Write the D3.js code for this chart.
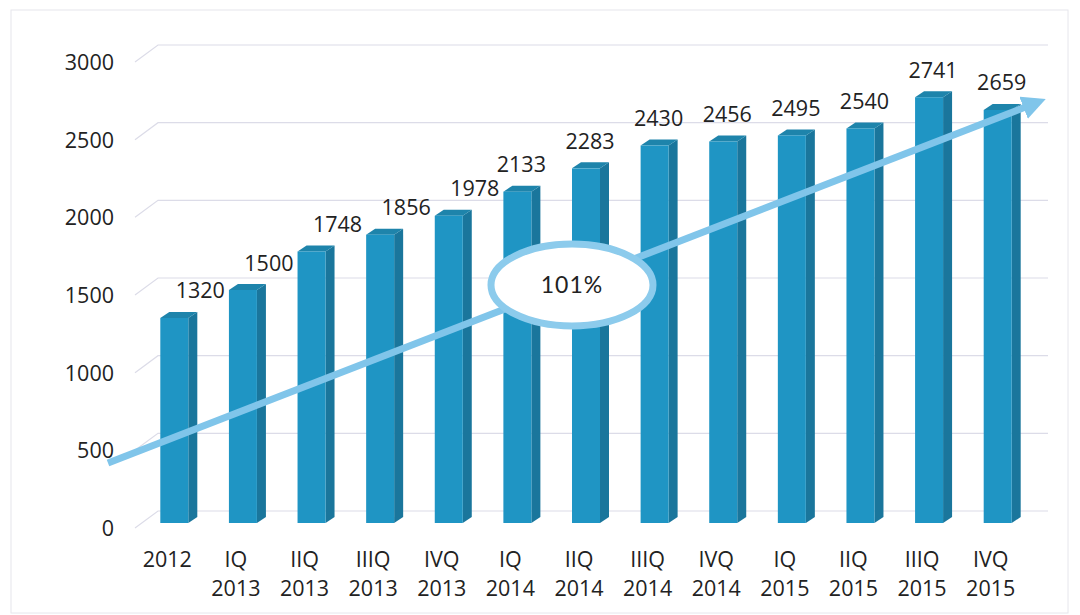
<!DOCTYPE html>
<html>
<head>
<meta charset="utf-8">
<script src="https://cdn.jsdelivr.net/npm/d3@7"></script>
<style>
  body { margin: 0; background: #fff; }
  svg text { font-family: "Open Sans", sans-serif; fill: #222; }
</style>
</head>
<body>
<div id="chart"></div>
<script>
// data
const quarters = ["", "IQ", "IIQ", "IIIQ", "IVQ", "IQ", "IIQ", "IIIQ", "IVQ", "IQ", "IIQ", "IIIQ", "IVQ"];
const years = ["2012", "2013", "2013", "2013", "2013", "2014", "2014", "2014", "2014", "2015", "2015", "2015", "2015"];
const values = [1320, 1500, 1748, 1856, 1978, 2133, 2283, 2430, 2456, 2495, 2540, 2741, 2659];
const yTicks = [0, 500, 1000, 1500, 2000, 2500, 3000];
const growthLabel = "101%";

const width = 1080, height = 615;
const ids = d3.range(values.length);
const fontSize = "21.5px";

const svg = d3.select("#chart").append("svg")
    .attr("width", width)
    .attr("height", height);

// faint frame round the chart area
svg.append("rect")
    .attr("x", 11).attr("y", 10)
    .attr("width", 1057).attr("height", 603)
    .attr("fill", "none")
    .attr("stroke", "#e6e6ec")
    .attr("stroke-width", 1);

// scales (front plane of the 3d box)
const x = d3.scaleBand().domain(ids).range([133, 1025]).padding(0);
const y = d3.scaleLinear().domain([0, 3000]).range([528, 62]);

// perspective offsets
const wall = { dx: 23, dy: -17 };   // back wall
const barShift = -5;                 // bars sit a bit behind the front plane
const depth = { dx: 9, dy: -6 };     // bar depth
const barW = 28;

// gridlines on the back wall + diagonal on the side
const grid = svg.append("g").attr("stroke", "#dcdce8").attr("stroke-width", 1.2).attr("fill", "none");
yTicks.forEach(t => {
    const yy = y(t);
    grid.append("path")
        .attr("d", `M135,${yy} L${135 + wall.dx},${yy + wall.dy} L1048,${yy + wall.dy}`);
});

// y axis labels
const yAxis = svg.append("g")
    .attr("transform", "translate(114,0)")
    .call(d3.axisLeft(y).tickValues(yTicks).tickFormat(d3.format("d")).tickSize(0).tickPadding(0));
yAxis.select(".domain").remove();
yAxis.selectAll("text")
    .style("font-family", "'Open Sans', sans-serif")
    .style("font-size", fontSize)
    .attr("fill", "#222")
    .attr("dy", "0.35em");

// bars
const barLeft = i => x(i) + x.bandwidth() / 2 - 7;
const bars = svg.append("g").selectAll("g")
    .data(ids)
    .join("g");

bars.append("path") // side
    .attr("fill", "#1a769c")
    .attr("d", i => {
        const x1 = barLeft(i) + barW, yb = y(0) + barShift, yt = y(values[i]) + barShift;
        return `M${x1},${yb} L${x1 + depth.dx},${yb + depth.dy} L${x1 + depth.dx},${yt + depth.dy} L${x1},${yt} Z`;
    });
bars.append("path") // top
    .attr("fill", "#1e84ab")
    .attr("d", i => {
        const x0 = barLeft(i), yt = y(values[i]) + barShift;
        return `M${x0},${yt} L${x0 + depth.dx},${yt + depth.dy} L${x0 + barW + depth.dx},${yt + depth.dy} L${x0 + barW},${yt} Z`;
    });
bars.append("rect") // front
    .attr("fill", "#1f95c4")
    .attr("x", i => barLeft(i))
    .attr("y", i => y(values[i]) + barShift)
    .attr("width", barW)
    .attr("height", i => y(0) - y(values[i]));

// value labels
svg.append("g").selectAll("text")
    .data(ids)
    .join("text")
    .attr("x", i => barLeft(i) + barW / 2 + (i < 5 ? 26 : 4))
    .attr("y", i => y(values[i]) + barShift - 27)
    .attr("dy", "0.35em")
    .attr("text-anchor", "middle")
    .style("font-size", fontSize)
    .text(i => values[i]);

// category labels (two lines)
const cat = svg.append("g").selectAll("text")
    .data(ids)
    .join("text")
    .attr("text-anchor", "middle")
    .style("font-size", fontSize);
cat.append("tspan")
    .attr("x", i => x(i) + x.bandwidth() / 2)
    .attr("y", 567)
    .text(i => quarters[i] || years[i]);
cat.append("tspan")
    .attr("x", i => x(i) + x.bandwidth() / 2)
    .attr("y", 596)
    .text(i => quarters[i] ? years[i] : "");

// trend arrow
const arrowColor = "#80c5ea";
svg.append("defs").append("marker")
    .attr("id", "head")
    .attr("viewBox", "0 0 10 10")
    .attr("refX", 2).attr("refY", 5)
    .attr("markerWidth", 3.4).attr("markerHeight", 3.4)
    .attr("orient", "auto")
    .append("path")
    .attr("d", "M0,0 L10,5 L0,10 Z")
    .attr("fill", arrowColor);

svg.append("line")
    .attr("x1", 108).attr("y1", 463)
    .attr("x2", 1028).attr("y2", 106)
    .attr("stroke", arrowColor)
    .attr("stroke-width", 7)
    .attr("marker-end", "url(#head)");

// growth bubble
svg.append("ellipse")
    .attr("cx", 572).attr("cy", 285)
    .attr("rx", 81).attr("ry", 41)
    .attr("fill", "#fff")
    .attr("stroke", "#8ccbec")
    .attr("stroke-width", 7);

svg.append("text")
    .attr("x", 572).attr("y", 285)
    .attr("dy", "0.35em")
    .attr("text-anchor", "middle")
    .style("font-family", "Lato, sans-serif")
    .style("font-size", "23px")
    .style("letter-spacing", "1px")
    .text(growthLabel);
</script>
</body>
</html>
